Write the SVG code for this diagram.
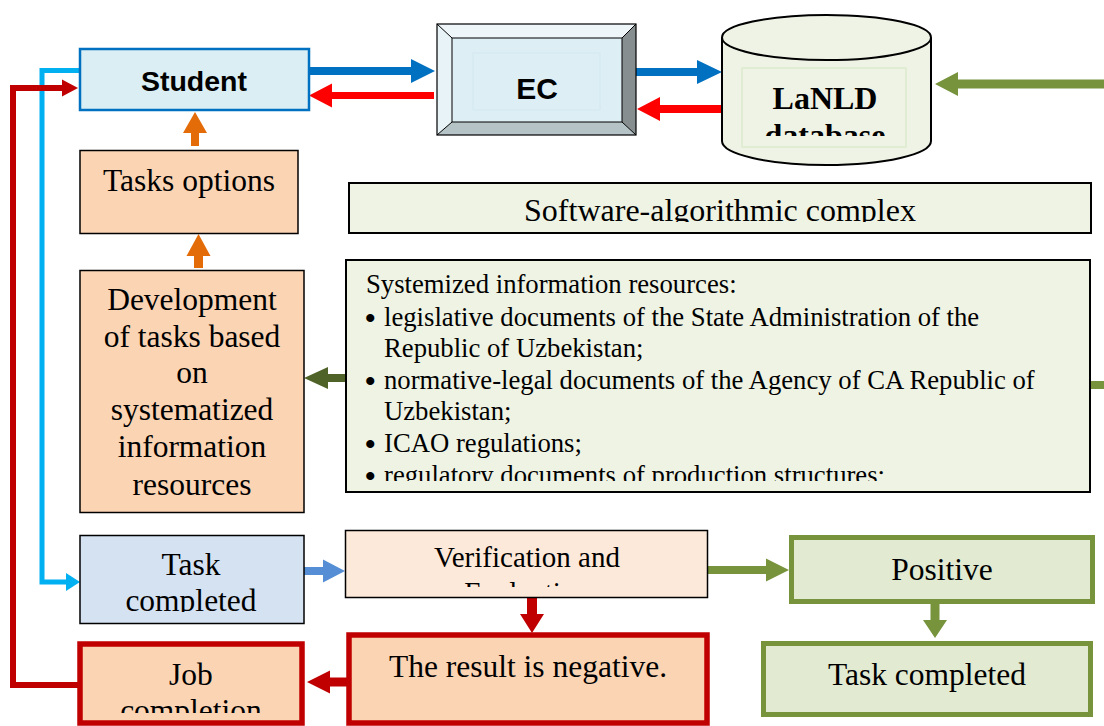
<svg xmlns="http://www.w3.org/2000/svg" width="1104" height="726" viewBox="0 0 1104 726">
<defs>
<style>
.serif{font-family:"Liberation Serif","Times New Roman",serif;fill:#000}
.sans{font-family:"Liberation Sans",Arial,sans-serif;font-weight:bold;fill:#000}
.c{text-anchor:middle}
.bul{font-family:"Liberation Serif","Times New Roman",serif;font-size:30px;font-weight:bold;fill:#000}
.peach{fill:#FBD4B4;stroke:#000;stroke-width:1.5}
.lgreen{fill:#EFF3E4;stroke:#000;stroke-width:2}
.okbox{fill:#E2EAD2;stroke:#77933C;stroke-width:5}
.badbox{fill:#FBD4B4;stroke:#C00000;stroke-width:5.5}
</style>
<clipPath id="cDb"><rect x="742" y="68" width="164" height="68"/></clipPath>
<clipPath id="cSac"><rect x="350" y="184" width="740" height="38"/></clipPath>
<clipPath id="cList"><rect x="347" y="261" width="742" height="220"/></clipPath>
<clipPath id="cVer"><rect x="346" y="531" width="361" height="56"/></clipPath>
<clipPath id="cTask"><rect x="81" y="536" width="222" height="76"/></clipPath>
<clipPath id="cJob"><rect x="83" y="647" width="216" height="66"/></clipPath>
</defs>
<rect width="1104" height="726" fill="#fff"/>

<g id="connectors">
<polygon fill="#0070C0" points="309,67 411,67 411,59 435,71 411,83 411,75 309,75"/>
<polygon fill="#FF0000" points="434,92 332,92 332,83.5 309,95.5 332,107.5 332,99 434,99"/>
<polygon fill="#0070C0" points="636,68 697,68 697,60 722,72 697,84 697,76 636,76"/>
<polygon fill="#FF0000" points="722,105 660,105 660,97 637,109 660,121 660,113 722,113"/>
<polygon fill="#77933C" points="1104,79.5 958,79.5 958,72 935,84 958,96 958,88.5 1104,88.5"/>
<polygon fill="#E36C09" points="191,146 191,133 183,133 195,112 207,133 199,133 199,146"/>
<polygon fill="#E36C09" points="194,268 194,256 186.5,256 198.5,234 210.5,256 203,256 203,268"/>
<polygon fill="#4F6228" points="346,374 328,374 328,367 304,378 328,389 328,382 346,382"/>
<rect x="1091" y="381" width="13" height="8" fill="#77933C"/>
<polyline fill="none" stroke="#00B0F0" stroke-width="5" points="79,70.5 42,70.5 42,582 67,582"/>
<polygon fill="#00B0F0" points="66,573 80,582 66,591"/>
<polyline fill="none" stroke="#C00000" stroke-width="6" points="78,685 13,685 13,88 64,88"/>
<polygon fill="#C00000" points="62,79.5 78,88 62,96.5"/>
<polygon fill="#558ED5" points="304,567 323,567 323,559.5 345,571 323,582.5 323,575 304,575"/>
<polygon fill="#77933C" points="708,566 766,566 766,558.5 789,570 766,581.5 766,574 708,574"/>
<polygon fill="#77933C" points="930.5,604 930.5,620 923,620 935,638 947,620 939.5,620 939.5,604"/>
<polygon fill="#C00000" points="527,598 527,614 520,614 532,633 544,614 537,614 537,598"/>
<polygon fill="#C00000" points="347,677.5 330,677.5 330,670.5 307,682 330,693.5 330,686.5 347,686.5"/>
</g>

<g id="student">
<rect x="80" y="49" width="229" height="61" fill="#DAEEF3" stroke="#0070C0" stroke-width="2.5"/>
<text class="sans c" x="194" y="91" font-size="28.5">Student</text>
</g>

<g id="ec">
<polygon fill="#EEF6F9" points="437,24 636,24 622,38 452,38"/>
<polygon fill="#E8F3F7" points="437,24 452,38 452,122 437,135"/>
<polygon fill="#868E90" points="636,24 636,135 622,122 622,38"/>
<polygon fill="#B5C3C7" points="437,135 452,122 622,122 636,135"/>
<rect x="452" y="38" width="170" height="84" fill="#DEEEF5" stroke="#000" stroke-width="1"/>
<rect x="437" y="24" width="199" height="111" fill="none" stroke="#000" stroke-width="1.2"/>
<g stroke="#000" stroke-width="1"><line x1="437" y1="24" x2="452" y2="38"/><line x1="636" y1="24" x2="622" y2="38"/><line x1="437" y1="135" x2="452" y2="122"/><line x1="636" y1="135" x2="622" y2="122"/></g>
<rect x="473" y="53" width="127" height="57" fill="none" stroke="#D2E8F1" stroke-width="1"/>
<text class="sans c" x="537" y="99" font-size="30">EC</text>
</g>

<g id="database">
<path d="M722,37.5 L722,141 A104.5,24 0 0 0 931,141 L931,37.5" fill="#EFF3E5" stroke="#000" stroke-width="2"/>
<ellipse cx="826.5" cy="37.5" rx="104.5" ry="22.5" fill="#EFF3E5" stroke="#000" stroke-width="2"/>
<rect x="742" y="68" width="164" height="79" fill="none" stroke="#DCEBCB" stroke-width="1.5"/>
<g clip-path="url(#cDb)">
<text class="serif c" x="825" y="109" font-size="32" font-weight="bold">LaNLD</text>
<text class="serif c" x="825" y="146" font-size="32" font-weight="bold">database</text>
</g>
</g>

<g id="tasks-options">
<rect class="peach" x="80" y="150.5" width="218" height="83"/>
<text class="serif c" x="189" y="191" font-size="31.5">Tasks options</text>
</g>

<g id="software-complex">
<rect class="lgreen" x="349" y="183" width="742" height="50"/>
<text class="serif c" x="720" y="221" font-size="32" clip-path="url(#cSac)">Software-algorithmic complex</text>
</g>

<g id="development">
<rect class="peach" x="80" y="270.5" width="224" height="242"/>
<g font-size="31.5">
<text class="serif c" x="192" y="310">Development</text>
<text class="serif c" x="192" y="347">of tasks based</text>
<text class="serif c" x="192" y="383">on</text>
<text class="serif c" x="192" y="420">systematized</text>
<text class="serif c" x="192" y="457">information</text>
<text class="serif c" x="192" y="495">resources</text>
</g>
</g>

<g id="info-resources">
<rect class="lgreen" x="346" y="260" width="744" height="232"/>
<g clip-path="url(#cList)" font-size="26.7">
<text class="serif" x="366" y="293">Systemized information resources:</text>
<text class="bul" x="365" y="328">•</text>
<text class="serif" x="384" y="326">legislative documents of the State Administration of the</text>
<text class="serif" x="384" y="357">Republic of Uzbekistan;</text>
<text class="bul" x="365" y="391">•</text>
<text class="serif" x="384" y="389">normative-legal documents of the Agency of CA Republic of</text>
<text class="serif" x="384" y="420">Uzbekistan;</text>
<text class="bul" x="365" y="454">•</text>
<text class="serif" x="384" y="452">ICAO regulations;</text>
<text class="bul" x="365" y="486">•</text>
<text class="serif" x="384" y="484">regulatory documents of production structures;</text>
</g>
</g>

<g id="task-completed-student">
<rect x="80" y="535.5" width="224" height="88" fill="#D5E2F2" stroke="#000" stroke-width="1.5"/>
<g clip-path="url(#cTask)" font-size="31.5">
<text class="serif c" x="191" y="575">Task</text>
<text class="serif c" x="191" y="611">completed</text>
</g>
</g>

<g id="verification">
<rect x="345.5" y="530.5" width="362" height="67" fill="#FDE9D9" stroke="#000" stroke-width="1.5"/>
<g clip-path="url(#cVer)" font-size="29">
<text class="serif c" x="527" y="567">Verification and</text>
<text class="serif c" x="527" y="602">Evaluation</text>
</g>
</g>

<g id="positive">
<rect class="okbox" x="791.5" y="537.5" width="301" height="64"/>
<text class="serif c" x="942" y="580" font-size="31.5">Positive</text>
</g>

<g id="task-completed-final">
<rect class="okbox" x="763.5" y="643.5" width="327" height="71"/>
<text class="serif c" x="927" y="685" font-size="31.5">Task completed</text>
</g>

<g id="negative">
<rect class="badbox" x="349" y="635" width="358" height="88"/>
<text class="serif c" x="528" y="677" font-size="31.5">The result is negative.</text>
</g>

<g id="job-completion">
<rect class="badbox" x="80" y="644" width="222" height="79"/>
<g clip-path="url(#cJob)" font-size="31.5">
<text class="serif c" x="191" y="685">Job</text>
<text class="serif c" x="191" y="721">completion</text>
</g>
</g>
</svg>
